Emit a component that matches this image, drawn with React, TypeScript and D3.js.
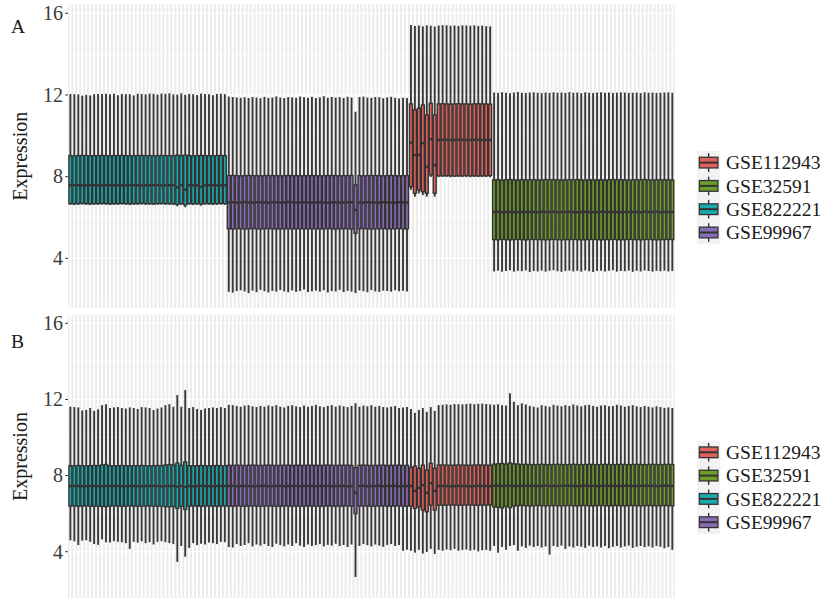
import React, { useEffect, useRef } from "react";
import * as d3 from "d3";

// legend order and fills
const groups = ["GSE112943", "GSE32591", "GSE822221", "GSE99967"];
const groupColors = ["#E0605B", "#6E9C2A", "#1AABAC", "#8A6CB6"];

// runs of samples along the x axis, left to right
const runGroups = ["GSE822221", "GSE99967", "GSE112943", "GSE32591"];
const runCounts = [40, 46, 21, 46];

const yTicks = [4, 8, 12, 16];
const yMinor = [2, 6, 10, 14];
const yLimits = [1.58, 16.42];

// ---- panel A (before normalisation): per-sample box stats ----
const aHigh = [
  12.05, 12.04, 12.03, 11.97, 12.01, 11.98, 12.04, 12.05, 12.05, 12.06,
  12.04, 12.06, 11.99, 12.05, 12.04, 12.04, 11.98, 12.06, 12.05, 12.03,
  12.07, 12.06, 12.02, 12.07, 12.06, 12.08, 12.03, 12.02, 12.08, 12.01,
  12.05, 12.04, 12.0, 12.07, 12.05, 12.03, 11.99, 12.05, 12.06, 12.04,
  11.92, 11.9, 11.88, 11.86, 11.89, 11.85, 11.9, 11.87, 11.84, 11.91,
  11.86, 11.88, 11.93, 11.87, 11.85, 11.9, 11.88, 11.86, 11.92, 11.89,
  11.87, 11.91, 11.85, 11.88, 11.94, 11.86, 11.9, 11.87, 11.89, 11.85,
  11.91, 11.88, 11.18, 11.9, 11.92, 11.87, 11.86, 11.9, 11.89, 11.84,
  11.88, 11.91, 11.86, 11.83, 11.87, 11.85,
  15.42, 15.38, 15.4, 15.36, 15.41, 15.39, 15.35, 15.4, 15.42, 15.41,
  15.39, 15.4, 15.38, 15.41, 15.4, 15.39, 15.41, 15.38, 15.4, 15.37, 15.36,
  12.12, 12.1, 12.13, 12.11, 12.09, 12.12, 12.14, 12.11, 12.1, 12.12,
  12.13, 12.11, 12.09, 12.12, 12.1, 12.13, 12.11, 12.12, 12.1, 12.14,
  12.11, 12.12, 12.09, 12.13, 12.11, 12.1, 12.12, 12.13, 12.11, 12.12,
  12.1, 12.11, 12.13, 12.12, 12.1, 12.11, 12.12, 12.09, 12.13, 12.11,
  12.12, 12.1, 12.11, 12.12, 12.13, 12.11,
];
const aQ3 = [
  9.03, 9.02, 9.03, 9.04, 9.03, 9.02, 9.03, 9.03, 9.04, 9.03,
  9.02, 9.03, 9.03, 9.04, 9.03, 9.02, 9.03, 9.03, 9.04, 9.03,
  9.03, 9.02, 9.03, 9.04, 9.03, 9.03, 9.02, 9.05, 9.03, 9.06,
  9.03, 9.02, 9.03, 9.04, 9.03, 9.03, 9.02, 9.03, 9.04, 9.03,
  8.05, 8.06, 8.05, 8.04, 8.05, 8.06, 8.05, 8.05, 8.04, 8.05,
  8.06, 8.05, 8.05, 8.04, 8.05, 8.06, 8.05, 8.05, 8.04, 8.05,
  8.05, 8.06, 8.05, 8.04, 8.05, 8.05, 8.06, 8.05, 8.04, 8.05,
  8.05, 8.06, 7.6, 8.05, 8.04, 8.05, 8.06, 8.05, 8.05, 8.04,
  8.05, 8.06, 8.05, 8.04, 8.05, 8.05,
  11.56, 11.27, 11.35, 11.51, 11.02, 11.59, 11.02, 11.56, 11.57, 11.56,
  11.55, 11.56, 11.57, 11.56, 11.56, 11.55, 11.56, 11.57, 11.56, 11.56, 11.55,
  7.84, 7.85, 7.83, 7.84, 7.86, 7.84, 7.83, 7.85, 7.84, 7.84,
  7.85, 7.83, 7.84, 7.86, 7.84, 7.85, 7.84, 7.83, 7.84, 7.85,
  7.84, 7.86, 7.84, 7.83, 7.85, 7.84, 7.84, 7.85, 7.83, 7.84,
  7.86, 7.84, 7.85, 7.84, 7.83, 7.84, 7.85, 7.84, 7.86, 7.84,
  7.83, 7.85, 7.84, 7.84, 7.85, 7.83,
];
const aMed = [
  7.58, 7.59, 7.58, 7.57, 7.58, 7.59, 7.58, 7.58, 7.57, 7.58,
  7.59, 7.58, 7.58, 7.57, 7.58, 7.59, 7.58, 7.58, 7.57, 7.58,
  7.58, 7.59, 7.58, 7.57, 7.58, 7.58, 7.59, 7.48, 7.58, 7.36,
  7.58, 7.57, 7.58, 7.5, 7.58, 7.59, 7.58, 7.57, 7.58, 7.58,
  6.74, 6.75, 6.73, 6.74, 6.76, 6.74, 6.73, 6.75, 6.74, 6.74,
  6.72, 6.74, 6.75, 6.73, 6.74, 6.76, 6.74, 6.73, 6.74, 6.75,
  6.74, 6.73, 6.74, 6.75, 6.74, 6.72, 6.74, 6.75, 6.73, 6.74,
  6.74, 6.75, 6.37, 6.74, 6.73, 6.75, 6.74, 6.74, 6.73, 6.75,
  6.74, 6.74, 6.73, 6.75, 6.74, 6.74,
  9.67, 9.06, 9.06, 9.64, 8.49, 9.83, 8.57, 9.8, 9.81, 9.8,
  9.79, 9.8, 9.81, 9.8, 9.8, 9.79, 9.8, 9.81, 9.8, 9.8, 9.79,
  6.27, 6.28, 6.26, 6.27, 6.28, 6.27, 6.26, 6.27, 6.28, 6.27,
  6.27, 6.26, 6.28, 6.27, 6.27, 6.28, 6.26, 6.27, 6.27, 6.28,
  6.27, 6.26, 6.27, 6.28, 6.27, 6.27, 6.26, 6.28, 6.27, 6.27,
  6.28, 6.27, 6.26, 6.27, 6.28, 6.27, 6.27, 6.26, 6.28, 6.27,
  6.27, 6.28, 6.26, 6.27, 6.27, 6.28,
];
const aQ1 = [
  6.68, 6.67, 6.68, 6.69, 6.68, 6.67, 6.68, 6.68, 6.69, 6.68,
  6.67, 6.68, 6.68, 6.69, 6.68, 6.67, 6.68, 6.68, 6.69, 6.68,
  6.68, 6.67, 6.68, 6.69, 6.68, 6.68, 6.67, 6.64, 6.68, 6.62,
  6.68, 6.67, 6.68, 6.66, 6.68, 6.68, 6.67, 6.68, 6.69, 6.68,
  5.45, 5.44, 5.46, 5.45, 5.44, 5.45, 5.46, 5.45, 5.44, 5.45,
  5.46, 5.45, 5.44, 5.45, 5.45, 5.46, 5.44, 5.45, 5.45, 5.44,
  5.46, 5.45, 5.45, 5.44, 5.45, 5.46, 5.45, 5.44, 5.45, 5.45,
  5.46, 5.44, 5.23, 5.45, 5.46, 5.45, 5.44, 5.45, 5.45, 5.46,
  5.44, 5.45, 5.45, 5.46, 5.44, 5.45,
  7.51, 7.19, 7.35, 7.27, 7.19, 8.09, 7.19, 8.04, 8.04, 8.05,
  8.04, 8.03, 8.04, 8.04, 8.05, 8.04, 8.04, 8.03, 8.04, 8.04, 8.05,
  4.92, 4.91, 4.93, 4.92, 4.91, 4.92, 4.93, 4.92, 4.91, 4.92,
  4.93, 4.92, 4.92, 4.91, 4.92, 4.93, 4.92, 4.91, 4.92, 4.92,
  4.93, 4.92, 4.91, 4.92, 4.92, 4.93, 4.92, 4.91, 4.92, 4.92,
  4.93, 4.92, 4.91, 4.92, 4.93, 4.92, 4.92, 4.91, 4.92, 4.93,
  4.92, 4.91, 4.92, 4.92, 4.93, 4.92,
];
const aLow = [
  6.62, 6.61, 6.62, 6.63, 6.62, 6.61, 6.62, 6.62, 6.63, 6.62,
  6.61, 6.62, 6.62, 6.63, 6.62, 6.61, 6.62, 6.62, 6.63, 6.62,
  6.62, 6.61, 6.62, 6.63, 6.62, 6.62, 6.61, 6.55, 6.62, 6.5,
  6.62, 6.61, 6.62, 6.58, 6.62, 6.62, 6.61, 6.62, 6.63, 6.62,
  2.36, 2.32, 2.4, 2.44, 2.38, 2.3, 2.42, 2.35, 2.46, 2.39,
  2.33, 2.41, 2.37, 2.45, 2.38, 2.34, 2.43, 2.36, 2.4, 2.48,
  2.35, 2.39, 2.42, 2.37, 2.44, 2.33, 2.4, 2.38, 2.46, 2.35,
  2.41, 2.37, 2.3, 2.43, 2.39, 2.34, 2.45, 2.38, 2.36, 2.42,
  2.4, 2.37, 2.44, 2.39, 2.41, 2.38,
  7.36, 7.02, 7.18, 7.1, 7.02, 7.98, 7.02, 7.98, 7.99, 7.98,
  7.97, 7.98, 7.99, 7.98, 7.98, 7.97, 7.98, 7.99, 7.98, 7.98, 7.97,
  3.36, 3.4, 3.34, 3.38, 3.42, 3.35, 3.39, 3.37, 3.41, 3.33,
  3.38, 3.36, 3.4, 3.35, 3.39, 3.42, 3.37, 3.34, 3.38, 3.4,
  3.36, 3.39, 3.35, 3.41, 3.37, 3.33, 3.38, 3.4, 3.36, 3.39,
  3.42, 3.35, 3.38, 3.37, 3.4, 3.34, 3.39, 3.36, 3.41, 3.38,
  3.35, 3.39, 3.37, 3.4, 3.36, 3.38,
];

// ---- panel B (after normalisation) ----
const bHigh = [
  11.62, 11.6, 11.58, 11.42, 11.45, 11.55, 11.4, 11.48, 11.7, 11.75,
  11.55, 11.58, 11.6, 11.55, 11.52, 11.58, 11.55, 11.5, 11.6, 11.58,
  11.55, 11.45, 11.52, 11.58, 11.7, 11.75, 11.62, 12.23, 11.62, 12.49,
  11.55, 11.6, 11.5, 11.45, 11.52, 11.55, 11.58, 11.55, 11.6, 11.55,
  11.72, 11.7, 11.66, 11.62, 11.68, 11.7, 11.64, 11.6, 11.66, 11.62,
  11.68, 11.64, 11.7, 11.62, 11.58, 11.66, 11.7, 11.64, 11.6, 11.68,
  11.62, 11.66, 11.72, 11.64, 11.6, 11.66, 11.7, 11.62, 11.68, 11.64,
  11.6, 11.66, 11.8, 11.62, 11.68, 11.64, 11.7, 11.62, 11.66, 11.6,
  11.58, 11.62, 11.66, 11.55, 11.58, 11.6,
  11.5, 11.3, 11.45, 11.55, 11.35, 11.6, 11.4, 11.7, 11.72, 11.74,
  11.72, 11.76, 11.75, 11.74, 11.76, 11.78, 11.75, 11.77, 11.78, 11.76, 11.74,
  11.72, 11.75, 11.7, 11.68, 12.32, 11.88, 11.7, 11.8, 11.74, 11.66,
  11.62, 11.58, 11.7, 11.66, 11.62, 11.72, 11.68, 11.64, 11.7, 11.66,
  11.74, 11.68, 11.64, 11.7, 11.72, 11.66, 11.62, 11.68, 11.7, 11.64,
  11.66, 11.72, 11.68, 11.62, 11.66, 11.7, 11.64, 11.6, 11.66, 11.62,
  11.58, 11.64, 11.6, 11.56, 11.58, 11.55,
];
const bQ3 = [
  8.52, 8.51, 8.53, 8.52, 8.51, 8.52, 8.53, 8.52, 8.56, 8.58,
  8.52, 8.51, 8.52, 8.53, 8.52, 8.51, 8.52, 8.52, 8.53, 8.52,
  8.51, 8.52, 8.53, 8.52, 8.56, 8.58, 8.55, 8.66, 8.54, 8.72,
  8.52, 8.51, 8.52, 8.53, 8.52, 8.51, 8.52, 8.53, 8.52, 8.51,
  8.54, 8.53, 8.55, 8.54, 8.53, 8.54, 8.55, 8.54, 8.53, 8.54,
  8.55, 8.54, 8.53, 8.54, 8.54, 8.55, 8.53, 8.54, 8.54, 8.53,
  8.55, 8.54, 8.54, 8.53, 8.54, 8.55, 8.54, 8.53, 8.54, 8.54,
  8.55, 8.53, 8.42, 8.54, 8.55, 8.54, 8.53, 8.54, 8.54, 8.55,
  8.53, 8.54, 8.54, 8.55, 8.53, 8.54,
  8.43, 8.5, 8.38, 8.55, 8.29, 8.64, 8.38, 8.55, 8.56, 8.55,
  8.54, 8.55, 8.56, 8.55, 8.55, 8.54, 8.55, 8.56, 8.55, 8.55, 8.54,
  8.6, 8.62, 8.64, 8.6, 8.66, 8.62, 8.6, 8.58, 8.59, 8.58,
  8.57, 8.58, 8.59, 8.58, 8.57, 8.58, 8.59, 8.58, 8.57, 8.58,
  8.59, 8.58, 8.57, 8.58, 8.59, 8.58, 8.57, 8.58, 8.59, 8.58,
  8.57, 8.58, 8.59, 8.58, 8.57, 8.58, 8.59, 8.58, 8.57, 8.58,
  8.59, 8.58, 8.57, 8.58, 8.59, 8.58,
];
const bMed = [
  7.45, 7.46, 7.45, 7.44, 7.45, 7.46, 7.45, 7.45, 7.44, 7.45,
  7.46, 7.45, 7.45, 7.44, 7.45, 7.46, 7.45, 7.45, 7.44, 7.45,
  7.45, 7.46, 7.45, 7.44, 7.45, 7.45, 7.46, 7.42, 7.45, 7.4,
  7.45, 7.44, 7.45, 7.46, 7.45, 7.45, 7.44, 7.45, 7.46, 7.45,
  7.45, 7.46, 7.44, 7.45, 7.46, 7.45, 7.44, 7.45, 7.45, 7.46,
  7.44, 7.45, 7.45, 7.46, 7.44, 7.45, 7.45, 7.46, 7.44, 7.45,
  7.45, 7.46, 7.44, 7.45, 7.45, 7.46, 7.44, 7.45, 7.45, 7.46,
  7.44, 7.45, 7.1, 7.45, 7.46, 7.44, 7.45, 7.45, 7.46, 7.44,
  7.45, 7.45, 7.46, 7.44, 7.45, 7.45,
  7.45, 7.2, 7.35, 7.5, 7.1, 7.6, 7.2, 7.45, 7.46, 7.45,
  7.44, 7.45, 7.46, 7.45, 7.45, 7.44, 7.45, 7.46, 7.45, 7.45, 7.44,
  7.46, 7.47, 7.45, 7.46, 7.47, 7.46, 7.45, 7.46, 7.47, 7.46,
  7.46, 7.45, 7.46, 7.47, 7.46, 7.46, 7.45, 7.46, 7.47, 7.46,
  7.46, 7.45, 7.46, 7.47, 7.46, 7.46, 7.45, 7.46, 7.47, 7.46,
  7.46, 7.45, 7.46, 7.47, 7.46, 7.46, 7.45, 7.46, 7.47, 7.46,
  7.46, 7.45, 7.46, 7.47, 7.46, 7.46,
];
const bQ1 = [
  6.4, 6.41, 6.39, 6.4, 6.41, 6.4, 6.39, 6.4, 6.38, 6.37,
  6.4, 6.41, 6.4, 6.39, 6.4, 6.41, 6.4, 6.39, 6.4, 6.4,
  6.41, 6.4, 6.39, 6.4, 6.37, 6.36, 6.38, 6.28, 6.39, 6.22,
  6.4, 6.41, 6.4, 6.39, 6.4, 6.41, 6.4, 6.39, 6.4, 6.41,
  6.4, 6.39, 6.41, 6.4, 6.39, 6.4, 6.41, 6.4, 6.39, 6.4,
  6.41, 6.4, 6.39, 6.4, 6.4, 6.41, 6.39, 6.4, 6.4, 6.39,
  6.41, 6.4, 6.4, 6.39, 6.4, 6.41, 6.4, 6.39, 6.4, 6.4,
  6.41, 6.39, 6.0, 6.4, 6.41, 6.4, 6.39, 6.4, 6.4, 6.41,
  6.39, 6.4, 6.4, 6.41, 6.39, 6.4,
  6.4, 6.28, 6.36, 6.19, 6.1, 6.45, 6.19, 6.45, 6.44, 6.45,
  6.46, 6.45, 6.44, 6.45, 6.45, 6.46, 6.45, 6.44, 6.45, 6.45, 6.46,
  6.36, 6.34, 6.3, 6.38, 6.32, 6.4, 6.42, 6.43, 6.42, 6.41,
  6.42, 6.43, 6.42, 6.41, 6.42, 6.43, 6.42, 6.41, 6.42, 6.43,
  6.42, 6.41, 6.42, 6.43, 6.42, 6.41, 6.42, 6.43, 6.42, 6.41,
  6.42, 6.43, 6.42, 6.41, 6.42, 6.43, 6.42, 6.41, 6.42, 6.43,
  6.42, 6.41, 6.42, 6.43, 6.42, 6.41,
];
const bLow = [
  4.6, 4.55, 4.35, 4.58, 4.6, 4.52, 4.4, 4.36, 4.65, 4.5,
  4.48, 4.55, 4.52, 4.5, 4.45, 4.15, 4.52, 4.48, 4.55, 4.45,
  4.5, 4.38, 4.52, 4.55, 4.5, 4.45, 4.4, 3.47, 4.3, 3.74,
  4.2, 4.45, 4.35, 4.42, 4.38, 4.48, 4.45, 4.4, 4.52, 4.5,
  4.25, 4.22, 4.4, 4.3, 4.35, 4.45, 4.28, 4.38, 4.32, 4.4,
  4.3, 4.25, 4.42, 4.35, 4.28, 4.38, 4.3, 4.45, 4.32, 4.25,
  4.38, 4.3, 4.35, 4.4, 4.28, 4.36, 4.32, 4.42, 4.3, 4.35,
  4.25, 4.38, 2.67, 4.3, 4.4, 4.34, 4.28, 4.38, 4.32, 4.26,
  4.36, 4.4, 4.3, 4.35, 4.05, 4.1,
  4.05, 3.95, 4.1, 3.9, 3.98, 4.15, 3.88, 4.1, 4.05, 4.12,
  4.08, 4.15, 4.05, 4.1, 4.12, 4.06, 4.1, 4.02, 4.08, 4.1, 4.05,
  4.3, 3.95, 4.25, 4.1, 4.3, 4.35, 4.05, 4.28, 4.2, 4.32,
  4.25, 4.3, 4.22, 4.28, 3.85, 4.3, 4.25, 4.32, 4.15, 4.28,
  4.22, 4.3, 4.26, 4.2, 4.32, 4.25, 4.28, 4.22, 4.3, 4.18,
  4.26, 4.3, 4.22, 4.28, 4.32, 4.2, 4.26, 4.3, 4.24, 4.28,
  4.22, 4.3, 4.26, 4.18, 4.25, 4.1,
];

const FONT = "'Liberation Serif', 'Times New Roman', serif";

const App = () => {
  const svgRef = useRef<SVGSVGElement>(null);

  useEffect(() => {
    const svg = d3.select(svgRef.current);
    svg.selectAll("*").remove();

    const samples: string[] = [];
    const sampleGroup: string[] = [];
    runGroups.forEach((g, i) => {
      d3.range(runCounts[i]).forEach((k) => {
        samples.push(`${g}_${k + 1}`);
        sampleGroup.push(g);
      });
    });

    const color = d3.scaleOrdinal<string, string>().domain(groups).range(groupColors);

    const left = 68;
    const right = 674.7;
    const x = d3
      .scaleBand()
      .domain(samples)
      .range([left, right])
      .paddingInner(0)
      .paddingOuter(0.1);
    const step = x.step();
    const cx = (s: string) => (x(s) as number) + step / 2;

    const panels = [
      { label: "A", top: 4.7, bottom: 307.8, legendTop: 162.6, labelY: 33.3,
        lo: aLow, q1: aQ1, med: aMed, q3: aQ3, hi: aHigh },
      { label: "B", top: 315.3, bottom: 597.8, legendTop: 452.3, labelY: 348.3,
        lo: bLow, q1: bQ1, med: bMed, q3: bQ3, hi: bHigh },
    ];

    panels.forEach((p) => {
      const y = d3.scaleLinear().domain(yLimits).range([p.bottom, p.top]);
      const g = svg.append("g");

      // panel background + grid
      g.append("rect")
        .attr("x", left)
        .attr("y", p.top)
        .attr("width", right - left)
        .attr("height", p.bottom - p.top)
        .attr("fill", "#EBEBEB");

      g.append("g")
        .selectAll("line")
        .data(yMinor)
        .join("line")
        .attr("x1", left)
        .attr("x2", right)
        .attr("y1", (d) => y(d))
        .attr("y2", (d) => y(d))
        .attr("stroke", "#fff")
        .attr("stroke-width", 0.7);

      g.append("g")
        .selectAll("line")
        .data(yTicks)
        .join("line")
        .attr("x1", left)
        .attr("x2", right)
        .attr("y1", (d) => y(d))
        .attr("y2", (d) => y(d))
        .attr("stroke", "#fff")
        .attr("stroke-width", 1.3);

      g.append("g")
        .selectAll("line")
        .data(samples)
        .join("line")
        .attr("x1", cx)
        .attr("x2", cx)
        .attr("y1", p.top)
        .attr("y2", p.bottom)
        .attr("stroke", "#fff")
        .attr("stroke-width", 1.9);

      const rows = samples.map((s, i) => ({
        s,
        group: sampleGroup[i],
        lo: p.lo[i],
        q1: p.q1[i],
        med: p.med[i],
        q3: p.q3[i],
        hi: p.hi[i],
      }));

      // whiskers
      g.append("g")
        .selectAll("line")
        .data(rows)
        .join("line")
        .attr("x1", (d) => cx(d.s))
        .attr("x2", (d) => cx(d.s))
        .attr("y1", (d) => y(d.lo))
        .attr("y2", (d) => y(d.hi))
        .attr("stroke", "#383838")
        .attr("stroke-width", 1.9);

      // boxes
      const bw = step * 0.75;
      g.append("g")
        .selectAll("rect")
        .data(rows)
        .join("rect")
        .attr("x", (d) => cx(d.s) - bw / 2)
        .attr("width", bw)
        .attr("y", (d) => y(d.q3))
        .attr("height", (d) => y(d.q1) - y(d.q3))
        .attr("fill", (d) => color(d.group))
        .attr("stroke", "#333333")
        .attr("stroke-width", 1.35);

      // medians
      g.append("g")
        .selectAll("line")
        .data(rows)
        .join("line")
        .attr("x1", (d) => cx(d.s) - bw / 2)
        .attr("x2", (d) => cx(d.s) + bw / 2)
        .attr("y1", (d) => y(d.med))
        .attr("y2", (d) => y(d.med))
        .attr("stroke", "#333333")
        .attr("stroke-width", 2.4);

      // y axis
      const ax = g.append("g");
      ax.selectAll("line")
        .data(yTicks)
        .join("line")
        .attr("x1", left - 2.8)
        .attr("x2", left)
        .attr("y1", (d) => y(d))
        .attr("y2", (d) => y(d))
        .attr("stroke", "#333333")
        .attr("stroke-width", 1);
      ax.selectAll("text")
        .data(yTicks)
        .join("text")
        .attr("x", left - 5)
        .attr("y", (d) => y(d))
        .attr("dy", "0.34em")
        .attr("text-anchor", "end")
        .attr("font-family", FONT)
        .attr("font-size", 20)
        .attr("fill", "#3a3a3a")
        .text((d) => d);

      g.append("text")
        .attr("transform", `translate(27, ${(p.top + p.bottom) / 2}) rotate(-90)`)
        .attr("text-anchor", "middle")
        .attr("font-family", FONT)
        .attr("font-size", 20)
        .attr("fill", "#1a1a1a")
        .text("Expression");

      g.append("text")
        .attr("x", 11)
        .attr("y", p.labelY)
        .attr("font-family", FONT)
        .attr("font-size", 19.5)
        .attr("fill", "#1a1a1a")
        .text(p.label);

      // legend
      const keySize = 23.3;
      const keyX = 697;
      const leg = g.append("g");
      groups.forEach((grp, i) => {
        const cy = p.legendTop + i * keySize;
        const top = cy - keySize / 2;
        const kc = keyX + keySize / 2;
        leg.append("rect")
          .attr("x", keyX)
          .attr("y", top)
          .attr("width", keySize)
          .attr("height", keySize)
          .attr("fill", "#F2F2F2");
        leg.append("line")
          .attr("x1", kc)
          .attr("x2", kc)
          .attr("y1", top + keySize * 0.1)
          .attr("y2", top + keySize * 0.9)
          .attr("stroke", "#333333")
          .attr("stroke-width", 1.4);
        leg.append("rect")
          .attr("x", keyX + keySize * 0.1)
          .attr("y", top + keySize * 0.27)
          .attr("width", keySize * 0.8)
          .attr("height", keySize * 0.46)
          .attr("fill", color(grp))
          .attr("stroke", "#333333")
          .attr("stroke-width", 1.3);
        leg.append("line")
          .attr("x1", keyX + keySize * 0.1)
          .attr("x2", keyX + keySize * 0.9)
          .attr("y1", cy)
          .attr("y2", cy)
          .attr("stroke", "#333333")
          .attr("stroke-width", 2);
        leg.append("text")
          .attr("x", 726)
          .attr("y", cy)
          .attr("dy", "0.34em")
          .attr("font-family", FONT)
          .attr("font-size", 19.5)
          .attr("fill", "#1a1a1a")
          .text(grp);
      });
    });
  }, []);

  return (
    <svg
      ref={svgRef}
      width={823}
      height={604}
      style={{ position: "absolute", left: 0, top: 0, background: "#fff" }}
    />
  );
};

export default App;
